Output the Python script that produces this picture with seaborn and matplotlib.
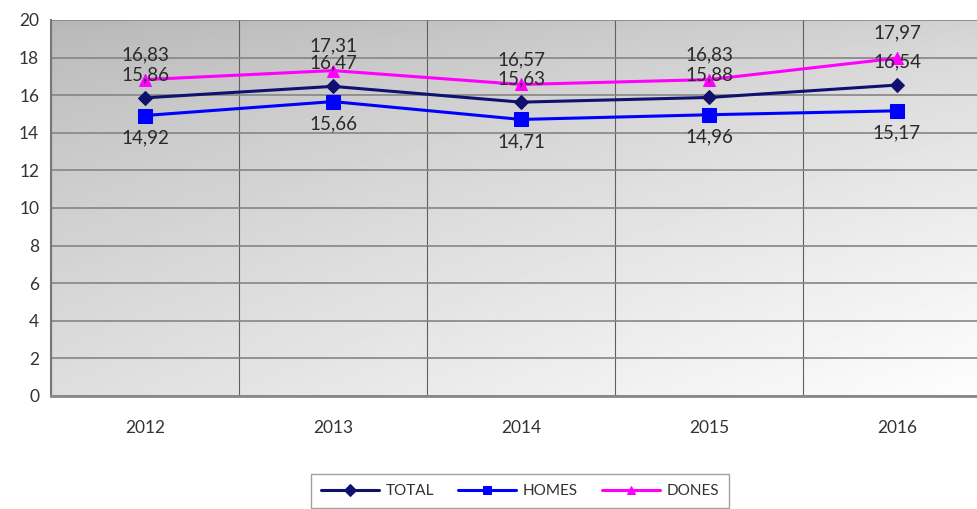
import numpy as np
import pandas as pd
import matplotlib
matplotlib.use("Agg")
import matplotlib.pyplot as plt
import seaborn as sns

years = ["2012", "2013", "2014", "2015", "2016"]
total = [15.86, 16.47, 15.63, 15.88, 16.54]
homes = [14.92, 15.66, 14.71, 14.96, 15.17]
dones = [16.83, 17.31, 16.57, 16.83, 17.97]

sns.set_style("white")
plt.rcParams['font.family'] = ['Lato', 'DejaVu Sans']

fig = plt.figure(figsize=(9.77, 5.09), dpi=100)
# plot area runs off the right edge like the source image
ax = fig.add_axes([51/977, 1 - 396/509, 940/977, 376/509])

# gray gradient: darker at the top and on the left, near white bottom-right
gx, gy = np.meshgrid(np.linspace(0, 1, 200), np.linspace(0, 1, 200))
grad = 182 + 28 * gx + 40 * gy ** 0.7 + 4 * gx * gy
ax.imshow(grad, extent=[0, 1, 0, 1], transform=ax.transAxes, aspect="auto",
          cmap="gray", vmin=0, vmax=255, zorder=0, origin="upper")

pos = np.arange(len(years))
series = [("TOTAL", total, "#10106e", "D", 7, 23),
          ("HOMES", homes, "#0000ff", "s", 10, -22),
          ("DONES", dones, "#ff00ff", "^", 9, 25)]

for name, vals, col, mk, ms, off in series:
    sns.lineplot(x=pos, y=vals, ax=ax, color=col, marker=mk, markersize=ms,
                 markeredgecolor=col, linewidth=2.2, label=name, zorder=3)
    for x, v in zip(pos, vals):
        ax.annotate("{:.2f}".format(v).replace(".", ","), (x, v),
                    xytext=(0, off), textcoords="offset pixels",
                    ha="center", va="center", fontsize=13.5, color="#2a2a2a", zorder=4)

ax.set_xlim(-0.5, 4.5)
ax.set_ylim(0, 20)
ax.set_yticks(range(0, 21, 2))
ax.set_xticks(pos)
ax.set_xticklabels(years)
ax.set_xticks(np.arange(-0.5, 5, 1), minor=True)
ax.grid(axis="y", color="#858585", linewidth=1.2)
ax.grid(axis="x", which="minor", color="#606060", linewidth=0.8)
ax.tick_params(axis="x", which="major", length=0, labelsize=12.5, colors="#333333", pad=17)
ax.tick_params(axis="x", which="minor", length=5, color="#606060", direction="out")
ax.tick_params(axis="y", length=5, color="#888888", direction="out", labelsize=12.5,
               labelcolor="#333333")
for s in ["top", "right"]:
    ax.spines[s].set_visible(False)
ax.spines["left"].set_color("#777777")
ax.spines["bottom"].set_color("#888888")
ax.spines["left"].set_linewidth(1.5)
ax.spines["bottom"].set_linewidth(2)
ax.set_xlabel("")
ax.set_ylabel("")

leg = ax.legend(loc="center", bbox_to_anchor=(520/977, 1 - 491/509), bbox_transform=fig.transFigure,
                ncol=3, frameon=True, fancybox=False, fontsize=11, handlelength=3.8,
                columnspacing=1.6, borderpad=0.65, handletextpad=0.4)
leg.get_frame().set_edgecolor("#888888")
leg.get_frame().set_linewidth(1)
for h in leg.legend_handles:
    h.set_markersize(6)
for t in leg.get_texts():
    t.set_color("#333333")

fig.savefig("out.png", dpi=100)
